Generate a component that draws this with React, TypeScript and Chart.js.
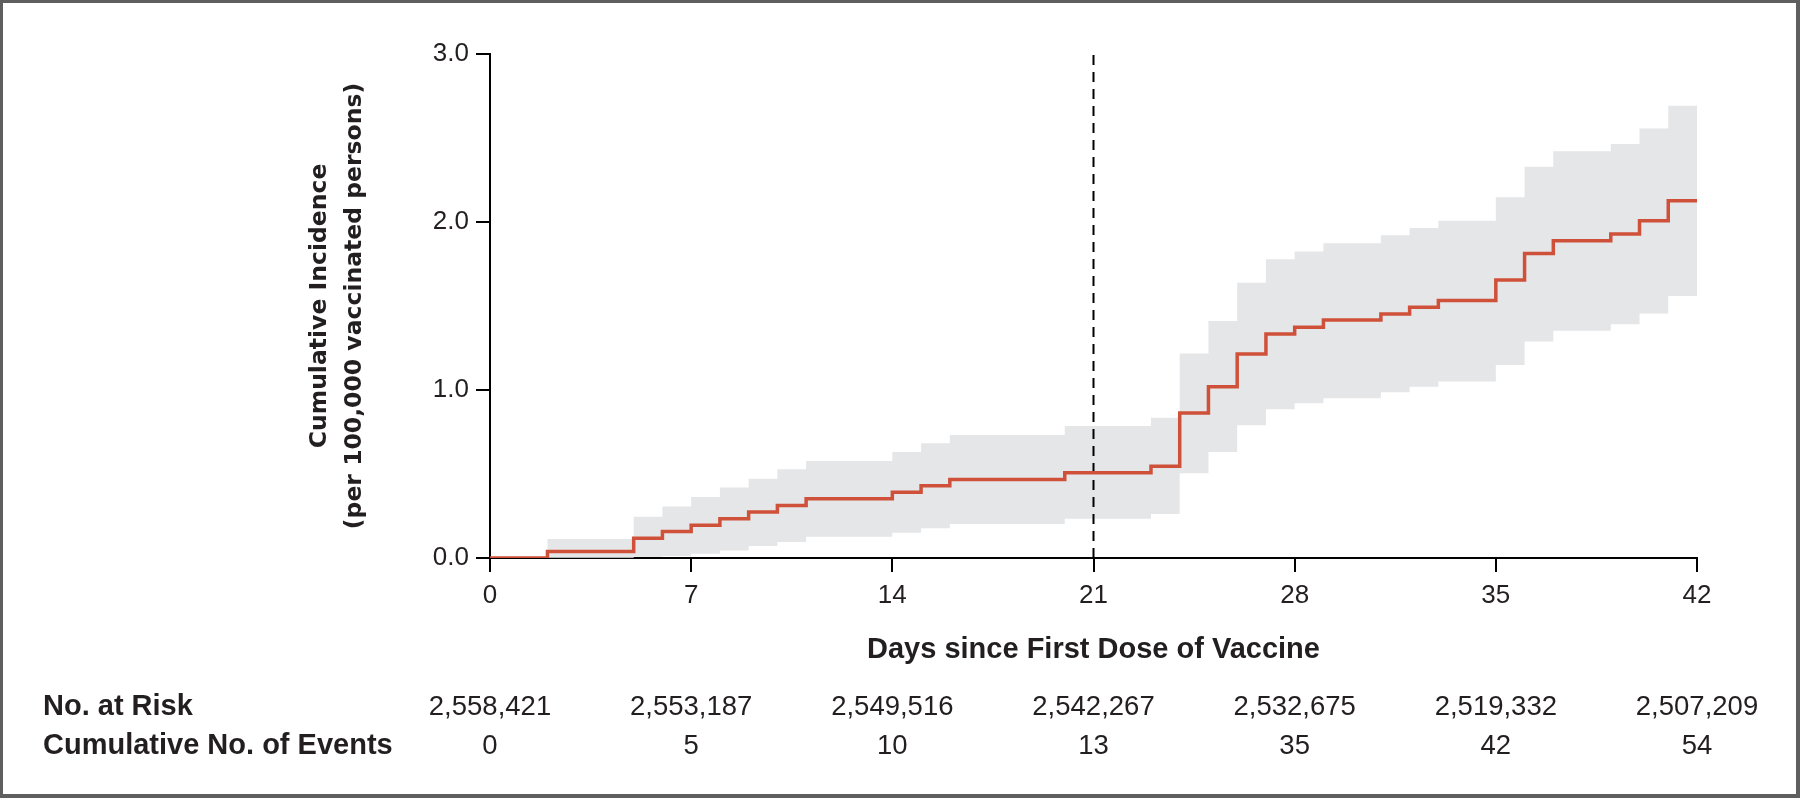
import React, { useEffect, useRef } from 'react';
import { Chart, registerables } from 'chart.js';

Chart.register(...registerables);

// days at which the curve changes, with the value from that day on
const stepDays = [0, 2, 5, 6, 7, 8, 9, 10, 11, 14, 15, 16, 20, 23, 24, 25, 26, 27, 28, 29, 31, 32, 33, 35, 36, 37, 39, 40, 41, 42];
const incidence = [0, 0.039, 0.117, 0.157, 0.195, 0.234, 0.274, 0.313, 0.353, 0.391, 0.43, 0.468, 0.508, 0.546, 0.863, 1.02, 1.214, 1.333, 1.373, 1.417, 1.452, 1.492, 1.532, 1.655, 1.813, 1.889, 1.929, 2.008, 2.127, 2.127];
const upperCI = [0, 0.113, 0.246, 0.306, 0.363, 0.419, 0.472, 0.528, 0.578, 0.631, 0.683, 0.732, 0.786, 0.835, 1.218, 1.41, 1.639, 1.779, 1.825, 1.873, 1.921, 1.964, 2.008, 2.147, 2.329, 2.421, 2.464, 2.557, 2.692, 2.692];
const lowerCI = [0, 0.002, 0.008, 0.012, 0.026, 0.044, 0.071, 0.095, 0.127, 0.151, 0.177, 0.202, 0.234, 0.262, 0.504, 0.631, 0.79, 0.885, 0.921, 0.951, 0.986, 1.02, 1.05, 1.149, 1.288, 1.353, 1.391, 1.456, 1.56, 1.56];

const secondDoseDay = 21;

const riskDays = [0, 7, 14, 21, 28, 35, 42];
const atRisk = ['2,558,421', '2,553,187', '2,549,516', '2,542,267', '2,532,675', '2,519,332', '2,507,209'];
const cumEvents = ['0', '5', '10', '13', '35', '42', '54'];

const INK = '#231f20';
const SANS = '"Liberation Sans", Arial, sans-serif';

const toPoints = (ys: number[]) => stepDays.map((d, i) => ({ x: d, y: ys[i] }));

// draws the no.-at-risk table under the x axis
const riskTable = {
  id: 'riskTable',
  afterDraw(chart: Chart) {
    const { ctx } = chart;
    const x = chart.scales.x;
    ctx.save();
    ctx.fillStyle = INK;
    ctx.textBaseline = 'alphabetic';
    ctx.font = `bold 29px ${SANS}`;
    ctx.textAlign = 'left';
    ctx.fillText('No. at Risk', 43, 715);
    ctx.fillText('Cumulative No. of Events', 43, 754);
    ctx.font = `27.5px ${SANS}`;
    ctx.textAlign = 'center';
    riskDays.forEach((d, i) => {
      const px = x.getPixelForValue(d);
      ctx.fillText(atRisk[i], px, 715);
      ctx.fillText(cumEvents[i], px, 754);
    });
    ctx.restore();
  }
};

const IncidenceChart: React.FC = () => {
  const canvasRef = useRef<HTMLCanvasElement>(null);
  const chartRef = useRef<Chart | null>(null);

  useEffect(() => {
    if (!canvasRef.current) return;
    if (chartRef.current) chartRef.current.destroy();

    chartRef.current = new Chart(canvasRef.current, {
      type: 'line',
      data: {
        datasets: [
          {
            label: 'Cumulative incidence',
            data: toPoints(incidence),
            stepped: true,
            borderColor: '#cf5139',
            borderWidth: 3.5,
            borderJoinStyle: 'miter',
            pointRadius: 0,
            fill: false
          },
          {
            label: 'Second dose',
            data: [
              { x: secondDoseDay, y: 0 },
              { x: secondDoseDay, y: 3 }
            ],
            borderColor: '#000',
            borderWidth: 2,
            borderDash: [10, 7],
            pointRadius: 0,
            fill: false
          },
          {
            label: 'Upper 95% CI',
            data: toPoints(upperCI),
            stepped: true,
            borderWidth: 0,
            borderColor: 'rgba(0,0,0,0)',
            backgroundColor: '#e5e6e8',
            pointRadius: 0,
            fill: '+1'
          },
          {
            label: 'Lower 95% CI',
            data: toPoints(lowerCI),
            stepped: true,
            borderWidth: 0,
            borderColor: 'rgba(0,0,0,0)',
            pointRadius: 0,
            fill: false
          }
        ]
      },
      options: {
        responsive: false,
        animation: false,
        layout: {
          padding: { left: 290, right: 103, top: 54, bottom: 120 }
        },
        plugins: {
          legend: { display: false },
          tooltip: { enabled: false }
        },
        scales: {
          x: {
            type: 'linear',
            min: 0,
            max: 42,
            afterFit: (axis) => {
              axis.height = 120;
            },
            border: { color: '#000', width: 2 },
            grid: {
              drawOnChartArea: false,
              drawTicks: true,
              tickLength: 14,
              color: '#000',
              lineWidth: 2
            },
            ticks: {
              stepSize: 7,
              padding: 8,
              color: INK,
              font: { family: SANS, size: 26 }
            },
            title: {
              display: true,
              text: 'Days since First Dose of Vaccine',
              color: INK,
              font: { family: SANS, size: 29, weight: 'bold' },
              padding: { top: 0, bottom: 11 }
            }
          },
          y: {
            type: 'linear',
            min: 0,
            max: 3,
            afterFit: (axis) => {
              axis.width = 200;
            },
            border: { color: '#000', width: 2 },
            grid: {
              drawOnChartArea: false,
              drawTicks: true,
              tickLength: 14,
              color: '#000',
              lineWidth: 2
            },
            ticks: {
              stepSize: 1,
              padding: 7,
              color: INK,
              font: { family: SANS, size: 26 },
              callback: (v) => Number(v).toFixed(1)
            },
            title: {
              display: true,
              text: ['Cumulative Incidence', '(per 100,000 vaccinated persons)'],
              color: INK,
              font: { family: '"DejaVu Sans", sans-serif', size: 23.5, weight: 'bold', lineHeight: '35px' },
              padding: { top: 12, bottom: 0 }
            }
          }
        }
      },
      plugins: [riskTable]
    });

    return () => {
      if (chartRef.current) {
        chartRef.current.destroy();
        chartRef.current = null;
      }
    };
  }, []);

  return (
    <div style={{ position: 'absolute', left: 0, top: 0, width: 1800, height: 798, background: '#fff' }}>
      <canvas ref={canvasRef} width={1800} height={798}></canvas>
      <div
        style={{
          position: 'absolute',
          left: 0,
          top: 0,
          width: 1800,
          height: 798,
          boxSizing: 'border-box',
          borderStyle: 'solid',
          borderColor: '#5f5f5f',
          borderWidth: '3px 4px 4px 3px',
          pointerEvents: 'none'
        }}
      ></div>
    </div>
  );
};

export default function App() {
  return <IncidenceChart />;
}
